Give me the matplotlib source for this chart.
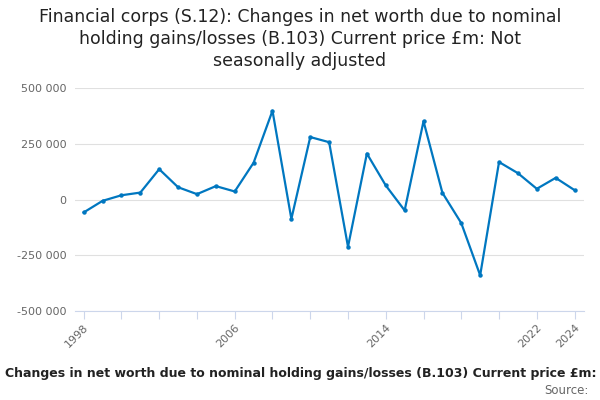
import matplotlib
matplotlib.use("Agg")
import matplotlib.pyplot as plt
from matplotlib.ticker import FuncFormatter

years = list(range(1998, 2025))
values = [-58000, -6000, 19000, 31000, 136000, 55000, 24000, 60000, 36000, 165000,
          398000, -87000, 280000, 257000, -212000, 206000, 63000, -49000, 351000, 30000,
          -106000, -340000, 168000, 118000, 48000, 97000, 42000]
label_years = [1998, 2006, 2014, 2022, 2024]
yticks = [-500000, -250000, 0, 250000, 500000]

title = ("Financial corps (S.12): Changes in net worth due to nominal\n"
         "holding gains/losses (B.103) Current price £m: Not\n"
         "seasonally adjusted")
footer = "Changes in net worth due to nominal holding gains/losses (B.103) Current price £m:"

fig = plt.figure(figsize=(6, 4), dpi=100)
ax = fig.add_axes([75/600, 1-311/400, (584-75)/600, (311-88)/400])

ax.plot(years, values, color="#0077c0", linewidth=1.6, marker="o", markersize=2.2, zorder=3)

ax.set_xlim(1997.54, 2024.5)
ax.set_ylim(-500000, 500000)
ax.set_yticks(yticks)
ax.yaxis.set_major_formatter(FuncFormatter(lambda v, p: f"{int(v):,}".replace(",", " ")))
ax.grid(axis="y", color="#e0e0e0", linewidth=0.8)
ax.set_axisbelow(True)

ax.set_xticks(list(range(1998, 2025, 2)))
ax.set_xticklabels([str(y) if y in label_years else "" for y in range(1998, 2025, 2)],
                   rotation=45, ha="right", rotation_mode="anchor")
ax.tick_params(axis="x", length=6, color="#ccd6eb", labelsize=8, labelcolor="#666666", pad=2)
ax.tick_params(axis="y", length=0, labelsize=8, labelcolor="#666666", pad=6)

for s in ["top", "right", "left"]:
    ax.spines[s].set_visible(False)
ax.spines["bottom"].set_color("#ccd6eb")

fig.text(0.5, 1-8/400, title, ha="center", va="top", fontsize=12.5, color="#222222", linespacing=1.3)
fig.text(301/600, 1-373/400, footer, ha="center", va="center", fontsize=9, fontweight="bold", color="#222222")
fig.text(589/600, 1-390/400, "Source:", ha="right", va="center", fontsize=8.5, color="#666666")

fig.savefig("out.png", dpi=100)
